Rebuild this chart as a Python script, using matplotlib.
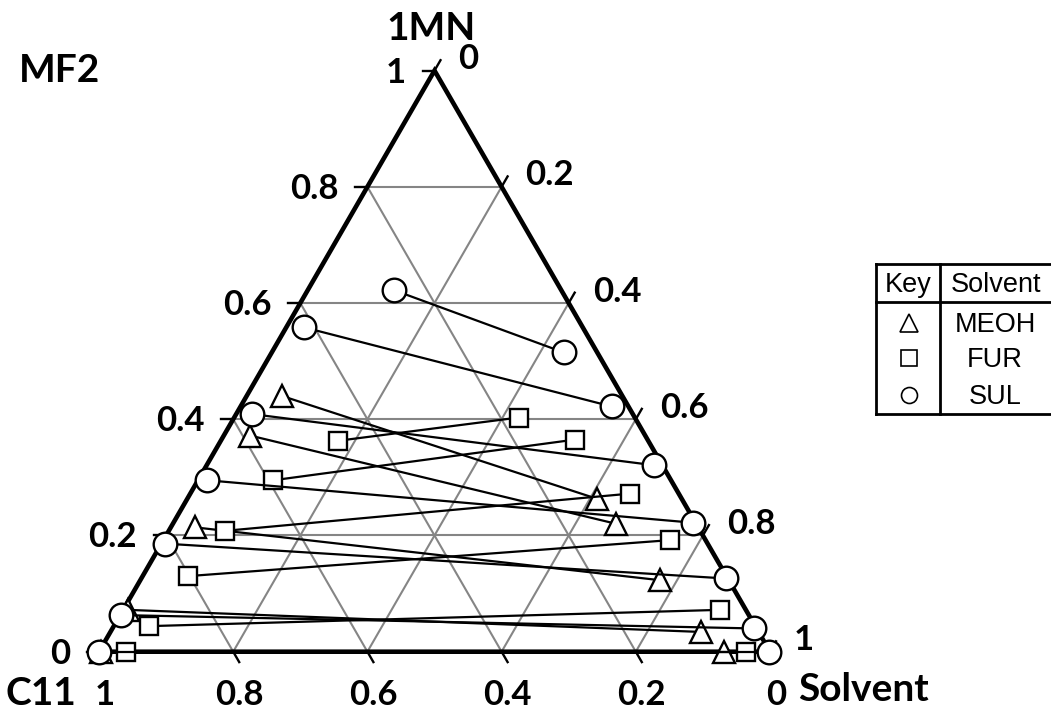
import numpy as np
import matplotlib
matplotlib.use("Agg")
from matplotlib import pyplot as plt

# tie lines, fractions of 1MN and Solvent at each end (C11 = 1 - 1MN - Solvent)
# left end = C11 rich phase, right end = solvent rich phase
meoh_left_mn = [0.440, 0.372, 0.214, 0.072, 0.000]
meoh_left_sol = [0.053, 0.039, 0.036, 0.007, 0.003]
meoh_right_mn = [0.263, 0.220, 0.123, 0.034, 0.000]
meoh_right_sol = [0.611, 0.661, 0.775, 0.880, 0.931]

fur_left_mn = [0.363, 0.295, 0.208, 0.130, 0.044, 0.000]
fur_left_sol = [0.175, 0.112, 0.084, 0.067, 0.053, 0.040]
fur_right_mn = [0.403, 0.365, 0.272, 0.192, 0.072, 0.000]
fur_right_sol = [0.424, 0.527, 0.655, 0.755, 0.889, 0.964]

sul_left_mn = [0.622, 0.558, 0.409, 0.295, 0.186, 0.063, 0.000]
sul_left_sol = [0.129, 0.027, 0.023, 0.014, 0.005, 0.002, 0.000]
sul_right_mn = [0.515, 0.422, 0.321, 0.222, 0.126, 0.040, 0.000]
sul_right_sol = [0.435, 0.553, 0.666, 0.774, 0.871, 0.956, 0.998]

ticks = [0, 0.2, 0.4, 0.6, 0.8, 1]
tick_labels = ["0", "0.2", "0.4", "0.6", "0.8", "1"]
solvents = ["MEOH", "FUR", "SUL"]

R3 = np.sqrt(3) / 2


def tern(mn, sol):
    mn = np.asarray(mn, dtype=float)
    sol = np.asarray(sol, dtype=float)
    return sol + mn / 2, mn * R3


FONT = ["Lato", "DejaVu Sans"]
plt.rcParams["font.family"] = FONT

fig = plt.figure(figsize=(10.51, 7.12), dpi=100)
ax = fig.add_axes([0, 0, 1, 1])
S = 671.0  # pixels per unit side
ax.set_xlim(-99 / S, 952 / S)
ax.set_ylim(-60.3 / S, 651.7 / S)
ax.axis("off")

grey = "#858585"
for k in ticks[1:-1]:
    ax.plot(*tern([k, k], [0, 1 - k]), color=grey, lw=1.5, zorder=1)
    ax.plot(*tern([0, 1 - k], [k, k]), color=grey, lw=1.5, zorder=1)
    ax.plot(*tern([0, 1 - k], [1 - k, 0]), color=grey, lw=1.5, zorder=1)

ax.plot(*tern([0, 0, 1, 0], [0, 1, 0, 0]), color="k", lw=3.3,
        solid_joinstyle="miter", zorder=2)

L = 12 / S
c60, s60 = 0.5, R3
for t, lab in zip(ticks, tick_labels):
    # left axis (1MN), horizontal ticks
    x0, y0 = tern(t, 0)
    ax.plot([x0, x0 - L], [y0, y0], color="k", lw=1.7, zorder=2)
    ax.annotate(lab, (x0, y0), xytext=(-29, -12), textcoords="offset pixels",
                ha="right", va="baseline", fontsize=25, fontweight="bold")
    # right axis (Solvent)
    x1, y1 = tern(1 - t, t)
    ax.plot([x1, x1 + L * c60], [y1, y1 + L * s60], color="k", lw=1.7, zorder=2)
    ax.annotate(lab, (x1, y1), xytext=(24, 1.5), textcoords="offset pixels",
                ha="left", va="baseline", fontsize=25, fontweight="bold")
    # bottom axis (C11)
    x2, y2 = tern(0, 1 - t)
    ax.plot([x2, x2 + L * c60], [y2, y2 - L * s60], color="k", lw=1.7, zorder=2)
    ax.annotate(lab, (x2, y2), xytext=(6, -53), textcoords="offset pixels",
                ha="center", va="baseline", fontsize=25, fontweight="bold")

series = [
    (meoh_left_mn, meoh_left_sol, meoh_right_mn, meoh_right_sol, "^", 16.5),
    (fur_left_mn, fur_left_sol, fur_right_mn, fur_right_sol, "s", 13.5),
    (sul_left_mn, sul_left_sol, sul_right_mn, sul_right_sol, "o", 17),
]
for i, (lm, ls, rm, rs, mk, ms) in enumerate(series):
    xl, yl = tern(lm, ls)
    xr, yr = tern(rm, rs)
    for a, b, c, d in zip(xl, yl, xr, yr):
        ax.plot([a, c], [b, d], color="k", lw=1.6, zorder=3 + 2 * i)
    ax.plot(np.r_[xl, xr], np.r_[yl, yr], ls="none", marker=mk, ms=ms,
            mfc="white", mec="k", mew=1.7, zorder=4 + 2 * i)

# overlay in pixel coordinates for titles and the key table
px = fig.add_axes([0, 0, 1, 1])
px.set_xlim(0, 1051)
px.set_ylim(712, 0)
px.axis("off")

for txt, x, y in [("1MN", 431, 40), ("MF2", 60, 81.5), ("C11", 41, 705), ("Solvent", 864, 701)]:
    px.text(x, y, txt, ha="center", va="baseline", fontsize=28, fontweight="bold")

lw = 2
px.plot([876, 1051], [264, 264], color="k", lw=lw)
px.plot([876, 1051], [301.7, 301.7], color="k", lw=lw)
px.plot([876, 1051], [414, 414], color="k", lw=lw)
px.plot([876, 876], [264, 414], color="k", lw=lw)
px.plot([940, 940], [264, 414], color="k", lw=lw)

tfont = ["Liberation Sans", "DejaVu Sans"]
px.text(908, 291.7, "Key", ha="center", va="baseline", fontsize=19.5, family=tfont)
px.text(996, 291.7, "Solvent", ha="center", va="baseline", fontsize=19.5, family=tfont)
row_y = [322.7, 358.3, 395]
row_base = [331.7, 367.3, 404]
leg_mk = [("^", 13), ("s", 12), ("o", 11.5)]
for name, y, yb, (mk, ms) in zip(solvents, row_y, row_base, leg_mk):
    px.plot([909], [y], ls="none", marker=mk, ms=ms, mfc="white", mec="k", mew=1.2)
    px.text(995, yb, name, ha="center", va="baseline", fontsize=19.5, family=tfont)

fig.savefig("out.png", dpi=100)
